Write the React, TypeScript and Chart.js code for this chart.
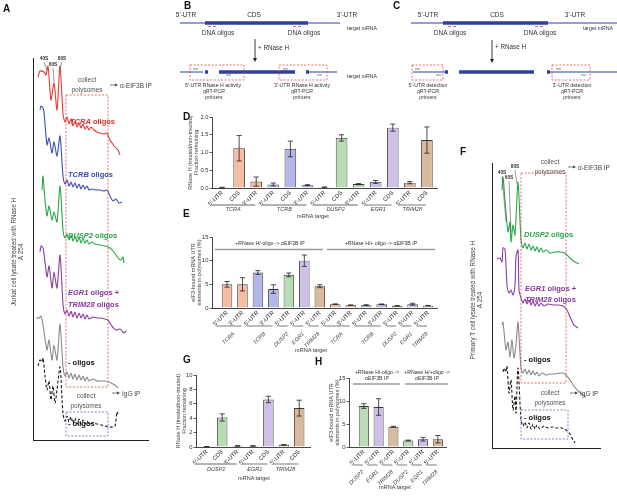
import React, { useEffect, useRef } from 'react';
import { Chart, registerables } from 'chart.js';

Chart.register(...registerables);

const W = 617;
const H = 496;
const FF = '"Liberation Sans", Arial, Helvetica, sans-serif';
Chart.defaults.font.family = FF;
Chart.defaults.color = '#333';

// ---------------- colours ----------------
const GROUP_COLOR: Record<string, string> = {
  TCRA: '#f6bda5',
  TCRB: '#b3b7e9',
  DUSP2: '#badcb5',
  EGR1: '#cec0e9',
  TRIM28: '#d9ba9c',
};

// ---------------- Panel D ----------------
const dLabels = ["5'-UTR", 'CDS', "3'-UTR", "5'-UTR", 'CDS', "3'-UTR", "5'-UTR", 'CDS', "3'-UTR", "5'-UTR", 'CDS', "5'-UTR", 'CDS'];
const dValues = [0.01, 1.12, 0.18, 0.1, 1.1, 0.08, 0.02, 1.41, 0.11, 0.17, 1.7, 0.15, 1.35];
const dErrors = [0.01, 0.36, 0.13, 0.04, 0.22, 0.015, 0.01, 0.09, 0.015, 0.04, 0.1, 0.03, 0.37];
const dGroups = ['TCRA', 'TCRB', 'DUSP2', 'EGR1', 'TRIM28'];
const dGroupSizes = [3, 3, 3, 2, 2];

// ---------------- Panel E ----------------
const eLabels = ["5'-UTR", "3'-UTR", "5'-UTR", "3'-UTR", "5'-UTR", "5'-UTR", "5'-UTR", "5'-UTR", "3'-UTR", "5'-UTR", "3'-UTR", "5'-UTR", "5'-UTR", "5'-UTR"];
const eValues = [5.0, 5.0, 7.5, 4.0, 7.0, 10.0, 4.6, 0.8, 0.6, 0.6, 0.8, 0.45, 0.8, 0.5];
const eErrors = [0.6, 1.4, 0.4, 0.9, 0.4, 1.2, 0.3, 0.08, 0.05, 0.1, 0.05, 0.05, 0.2, 0.05];
const eGroups = ['TCRA', 'TCRB', 'DUSP2', 'EGR1', 'TRIM28', 'TCRA', 'TCRB', 'DUSP2', 'EGR1', 'TRIM28'];
const eGroupSizes = [2, 2, 1, 1, 1, 2, 2, 1, 1, 1];

// ---------------- Panel G ----------------
const gLabels = ["5'-UTR", 'CDS', "3'-UTR", "5'-UTR", 'CDS', "5'-UTR", 'CDS'];
const gValues = [0.05, 4.1, 0.15, 0.15, 6.6, 0.3, 5.4];
const gErrors = [0.02, 0.5, 0.05, 0.05, 0.45, 0.05, 1.1];
const gGroups = ['DUSP2', 'EGR1', 'TRIM28'];
const gGroupSizes = [3, 2, 2];

// ---------------- Panel H ----------------
const hLabels = ["5'-UTR", "5'-UTR", "5'-UTR", "5'-UTR", "5'-UTR", "5'-UTR"];
const hValues = [8.9, 8.7, 4.4, 1.4, 1.7, 1.7];
const hErrors = [0.5, 1.8, 0.1, 0.1, 0.4, 0.8];
const hGroups = ['DUSP2', 'EGR1', 'TRIM28', 'DUSP2', 'EGR1', 'TRIM28'];
const hGroupSizes = [1, 1, 1, 1, 1, 1];

// ---------------- Panel A traces (gradient position, A254 a.u.) ----------------
const aRed: [number, number][] = [[5,355],[7,361],[11,360],[13,357],[15,366],[18,332],[21,349],[24,322],[27,366],[30,318],[32,310],[34,315],[36,308],[38,313],[40,306],[42,311],[44,305],[46,309],[48,304],[50,308],[52,303],[54,306],[56,302],[58,305],[61,302],[64,300],[67,299],[71,298],[74,299],[76,294],[79,289],[82,285],[85,282],[87,277]];
const aBlue: [number, number][] = [[7,322],[8,326],[10,324],[11,320],[14,287],[16,294],[19,279],[21,290],[24,276],[27,296],[30,256],[32,248],[34,252],[36,246],[38,250],[40,245],[42,249],[44,244],[46,248],[48,243],[50,247],[52,243],[54,246],[56,242],[59,243],[63,242],[67,242],[71,241],[74,242],[77,236],[80,231],[83,233],[86,229],[89,230]];
const aGreen: [number, number][] = [[9,242],[10,256],[12,232],[14,216],[16,226],[19,212],[21,220],[24,210],[27,246],[30,202],[32,194],[34,198],[36,192],[38,197],[40,191],[42,196],[44,190],[46,195],[48,189],[50,194],[52,189],[54,192],[56,188],[59,190],[62,188],[67,187],[72,186],[77,184],[81,180],[85,174],[88,172],[90,175],[91,169]];
const aPurple: [number, number][] = [[7,180],[8,186],[10,184],[12,170],[14,155],[16,166],[19,144],[21,160],[24,144],[27,177],[30,128],[32,118],[34,122],[36,116],[38,121],[40,115],[42,120],[44,114],[46,119],[48,114],[50,118],[52,113],[54,117],[56,113],[60,115],[64,114],[68,114],[72,113],[75,112],[79,106],[83,102],[87,103],[91,99],[93,101]];
const aGray: [number, number][] = [[3,114],[6,114],[8,116],[10,107],[14,82],[16,92],[19,72],[21,87],[24,72],[27,108],[30,65],[32,56],[34,60],[36,54],[38,59],[40,53],[42,58],[44,52],[46,57],[48,52],[50,56],[52,51],[54,55],[56,51],[60,53],[64,51],[68,51],[72,51],[76,50],[80,48],[83,46],[85,44]];
const aBlack: [number, number][] = [[5,66],[7,72],[9,70],[10,74],[12,56],[14,42],[16,51],[18,32],[20,46],[22,29],[24,42],[27,65],[30,18],[32,11],[34,16],[36,10],[38,15],[40,9],[42,14],[44,8],[46,13],[48,8],[50,12],[52,8],[54,11],[56,8],[60,9],[64,8],[68,7],[72,6],[76,5],[80,5],[82,6],[84,20],[85,18]];

// ---------------- Panel F traces ----------------
const fGreen: [number, number][] = [[10,258],[11,271],[13,248],[16,216],[18,226],[19,206],[21,223],[23,213],[26,266],[29,208],[31,200],[33,205],[35,199],[37,204],[39,198],[41,202],[43,197],[45,201],[47,196],[49,200],[51,196],[54,198],[58,195],[63,196],[68,196],[73,195],[76,192],[79,189],[83,186],[87,184]];
const fPurple: [number, number][] = [[5,189],[8,190],[10,186],[11,200],[13,199],[15,163],[17,155],[19,158],[21,153],[23,163],[24,192],[26,198],[27,158],[29,150],[31,145],[33,149],[35,144],[37,148],[39,143],[41,147],[43,142],[45,146],[47,142],[49,145],[52,142],[56,144],[61,143],[66,143],[71,142],[75,138],[78,131],[82,123],[86,120]];
const fGray: [number, number][] = [[10,123],[11,126],[14,98],[16,106],[18,91],[20,108],[22,90],[24,103],[26,126],[29,80],[31,75],[33,79],[35,74],[37,78],[39,73],[41,77],[43,73],[45,76],[47,72],[50,75],[54,73],[58,74],[63,74],[68,75],[73,74],[78,68],[82,62],[86,57],[90,54],[94,51]];
const fBlack: [number, number][] = [[11,76],[12,80],[14,76],[15,82],[17,55],[19,68],[21,38],[23,52],[24,35],[26,80],[29,28],[31,22],[33,26],[35,20],[37,25],[39,19],[41,24],[43,19],[45,23],[48,19],[52,22],[56,20],[60,21],[65,20],[70,20],[74,18],[78,14],[81,8],[83,5]];

// ---------------- Schematic (B, C) segments: x1, x2, y, width, colour ----------------
const BLUE = '#2f3f9e';
const RED = '#e0403c';
const schemSegments: [number, number, number, number, string][] = [
  [180, 340, 23, 1, BLUE], [205, 308, 23, 3.5, BLUE],
  [180, 203, 72, 1, BLUE], [205, 208, 72, 3.5, BLUE], [219, 295, 72, 3.5, BLUE], [306, 309, 72, 3.5, BLUE], [309, 337, 72, 1, BLUE],
  [411, 617, 23, 1, BLUE], [443, 548, 23, 3.5, BLUE],
  [413, 445, 72, 1, BLUE], [445, 448, 72, 3.5, BLUE], [459, 534, 72, 3.5, BLUE], [547, 550, 72, 3.5, BLUE], [550, 617, 72, 1, BLUE],
  [208, 211, 26.5, 0.8, RED], [213, 216, 26.5, 0.8, RED], [293, 296, 26.5, 0.8, RED], [298, 301, 26.5, 0.8, RED],
  [448, 451, 26.5, 0.8, RED], [453, 456, 26.5, 0.8, RED], [535, 538, 26.5, 0.8, RED], [540, 543, 26.5, 0.8, RED],
  [193, 198, 69, 0.6, '#333'], [226, 231, 75, 0.6, '#333'], [283, 288, 69, 0.6, '#333'], [317, 322, 75, 0.6, '#333'],
  [415, 420, 69, 0.6, '#333'], [436, 441, 75, 0.6, '#333'], [556, 561, 69, 0.6, '#333'], [581, 586, 75, 0.6, '#333'],
];

// ---------------- drawing helpers ----------------
type TOpt = { size?: number; bold?: boolean; italic?: boolean; color?: string; align?: CanvasTextAlign; rot?: number };
function T(ctx: CanvasRenderingContext2D, s: string, x: number, y: number, o: TOpt = {}) {
  ctx.save();
  ctx.font = `${o.italic ? 'italic ' : ''}${o.bold ? 'bold ' : ''}${o.size ?? 6.5}px ${FF}`;
  ctx.fillStyle = o.color ?? '#333';
  ctx.textAlign = o.align ?? 'center';
  ctx.textBaseline = 'middle';
  ctx.translate(x, y);
  if (o.rot) ctx.rotate(o.rot);
  ctx.fillText(s, 0, 0);
  ctx.restore();
}
function Mixed(ctx: CanvasRenderingContext2D, parts: [string, boolean][], x: number, y: number, size: number, color: string) {
  ctx.save();
  ctx.fillStyle = color;
  ctx.textBaseline = 'middle';
  ctx.textAlign = 'left';
  let cx = x;
  for (const [s, it] of parts) {
    ctx.font = `${it ? 'italic ' : ''}bold ${size}px ${FF}`;
    ctx.fillText(s, cx, y);
    cx += ctx.measureText(s).width;
  }
  ctx.restore();
}
function DRect(ctx: CanvasRenderingContext2D, x1: number, y1: number, x2: number, y2: number, color: string) {
  ctx.save();
  ctx.strokeStyle = color;
  ctx.lineWidth = 0.8;
  ctx.setLineDash([2, 1.6]);
  ctx.strokeRect(x1, y1, x2 - x1, y2 - y1);
  ctx.restore();
}
function Line(ctx: CanvasRenderingContext2D, x1: number, y1: number, x2: number, y2: number, color = '#555', w = 0.6) {
  ctx.save();
  ctx.strokeStyle = color;
  ctx.lineWidth = w;
  ctx.beginPath();
  ctx.moveTo(x1, y1);
  ctx.lineTo(x2, y2);
  ctx.stroke();
  ctx.restore();
}
function ArrowR(ctx: CanvasRenderingContext2D, x1: number, x2: number, y: number, color = '#444') {
  Line(ctx, x1, y, x2 - 2, y, color, 0.7);
  ctx.save();
  ctx.fillStyle = color;
  ctx.beginPath();
  ctx.moveTo(x2, y);
  ctx.lineTo(x2 - 3, y - 1.5);
  ctx.lineTo(x2 - 3, y + 1.5);
  ctx.closePath();
  ctx.fill();
  ctx.restore();
}
function ArrowD(ctx: CanvasRenderingContext2D, x: number, y1: number, y2: number) {
  Line(ctx, x, y1, x, y2 - 3, '#222', 0.9);
  ctx.save();
  ctx.fillStyle = '#222';
  ctx.beginPath();
  ctx.moveTo(x, y2);
  ctx.lineTo(x - 2, y2 - 4);
  ctx.lineTo(x + 2, y2 - 4);
  ctx.closePath();
  ctx.fill();
  ctx.restore();
}

// ---------------- bar panels ----------------
type Header = { lines: string[]; cx: number; y: number; x1: number; x2: number; lineY: number };
type BarSpec = {
  id: string; labels: string[]; values: number[]; errors: number[]; groups: string[]; sizes: number[];
  l: number; t: number; r: number; b: number; xMin: number; xMax: number; yMax: number; step: number; dec: number;
  yw: number; xh: number; letter: [string, number, number]; yTitle: string[]; yTitleX: number;
  groupRotate: boolean; groupLineY: number; groupTextY: number; mTarget: [number, number]; headers?: Header[];
};

function barConfig(s: BarSpec): any {
  const colors: string[] = [];
  s.groups.forEach((g, i) => { for (let k = 0; k < s.sizes[i]; k++) colors.push(GROUP_COLOR[g]); });
  const plugin = {
    id: 'barExtras' + s.id,
    afterDatasetsDraw(chart: any) {
      const ctx = chart.ctx as CanvasRenderingContext2D;
      const ys = chart.scales.y;
      const meta = chart.getDatasetMeta(0);
      ctx.save();
      ctx.strokeStyle = '#222';
      ctx.lineWidth = 0.8;
      meta.data.forEach((el: any, i: number) => {
        const v = s.values[i];
        const e = s.errors[i];
        const yt = ys.getPixelForValue(v + e);
        const yb = ys.getPixelForValue(Math.max(0, v - e));
        const x = el.x;
        const cw = 2.6;
        ctx.beginPath();
        ctx.moveTo(x, yt); ctx.lineTo(x, yb);
        ctx.moveTo(x - cw, yt); ctx.lineTo(x + cw, yt);
        ctx.moveTo(x - cw, yb); ctx.lineTo(x + cw, yb);
        ctx.stroke();
      });
      ctx.restore();
    },
    afterDraw(chart: any) {
      const ctx = chart.ctx as CanvasRenderingContext2D;
      const xs = chart.scales.x;
      const ys = chart.scales.y;
      T(ctx, s.letter[0], s.letter[1], s.letter[2], { size: 10, bold: true, color: '#111', align: 'left' });
      const cy = (ys.top + ys.bottom) / 2;
      s.yTitle.forEach((ln, i) => T(ctx, ln, s.yTitleX + i * 6.5, cy, { size: 5.5, rot: -Math.PI / 2, color: '#444' }));
      let start = 0;
      s.groups.forEach((g, gi) => {
        const end = start + s.sizes[gi] - 1;
        const p1 = xs.getPixelForValue(start);
        const p2 = xs.getPixelForValue(end);
        const x1 = p1 - 11;
        const x2 = p2 - 1;
        Line(ctx, x1, s.groupLineY, x2, s.groupLineY, '#9a9a9a', 1.3);
        const mid = (x1 + x2) / 2;
        if (s.groupRotate) {
          T(ctx, g, mid + 5, s.groupTextY, { size: 5.5, italic: true, align: 'right', rot: -Math.PI / 4, color: '#444' });
        } else {
          T(ctx, g, mid, s.groupTextY, { size: 5.5, italic: true, color: '#444' });
        }
        start = end + 1;
      });
      T(ctx, 'mRNA target', s.mTarget[0], s.mTarget[1], { size: 5.5, color: '#333' });
      (s.headers ?? []).forEach((h) => {
        h.lines.forEach((ln, i) => T(ctx, ln, h.cx, h.y + i * 6, { size: 5.2, color: '#333' }));
        Line(ctx, h.x1, h.lineY, h.x2, h.lineY, '#9a9a9a', 1.3);
      });
    },
  };
  return {
    type: 'bar',
    data: {
      datasets: [{
        data: s.values.map((v, i) => ({ x: i, y: v })),
        backgroundColor: colors,
        borderColor: '#3a3a3a',
        borderWidth: 0.9,
        barPercentage: 0.68,
        categoryPercentage: 1,
      }],
    },
    options: {
      responsive: false,
      animation: false,
      events: [],
      layout: { padding: { left: s.l - s.yw, top: s.t, right: W - s.r, bottom: H - s.b - s.xh } },
      plugins: { legend: { display: false }, tooltip: { enabled: false }, title: { display: false } },
      scales: {
        x: {
          type: 'linear', min: s.xMin, max: s.xMax, offset: false,
          afterBuildTicks: (sc: any) => { sc.ticks = s.labels.map((_, i) => ({ value: i })); },
          afterFit: (sc: any) => { sc.height = s.xh; },
          ticks: {
            autoSkip: false, maxRotation: 45, minRotation: 45, padding: 1.5,
            font: { size: 5.8, family: FF }, color: '#222',
            callback: (v: any) => s.labels[Math.round(v)] ?? '',
          },
          grid: { display: false, drawTicks: false, tickLength: 0 },
          border: { display: true, color: '#333', width: 0.9 },
        },
        y: {
          min: 0, max: s.yMax,
          afterFit: (sc: any) => { sc.width = s.yw; },
          ticks: { stepSize: s.step, padding: 1, font: { size: 5.8, family: FF }, color: '#333', callback: (v: any) => Number(v).toFixed(s.dec) },
          grid: { display: true, drawOnChartArea: false, drawTicks: true, tickLength: 2.5, color: '#333', lineWidth: 0.8 },
          border: { display: true, color: '#333', width: 0.9 },
        },
      },
    },
    plugins: [plugin],
  };
}

const specD: BarSpec = {
  id: 'D', labels: dLabels, values: dValues, errors: dErrors, groups: dGroups, sizes: dGroupSizes,
  l: 212, t: 117, r: 437, b: 188, xMin: -0.59, xMax: 12.59, yMax: 2, step: 0.5, dec: 1, yw: 16, xh: 30,
  letter: ['D', 183, 117], yTitle: ['RNase H (treated/non-treated)', 'Fraction remaining'], yTitleX: 190,
  groupRotate: false, groupLineY: 205, groupTextY: 209.5, mTarget: [313, 216],
};
const specE: BarSpec = {
  id: 'E', labels: eLabels, values: eValues, errors: eErrors, groups: eGroups, sizes: eGroupSizes,
  l: 212, t: 237, r: 437, b: 308, xMin: -0.97, xMax: 13.58, yMax: 15, step: 5, dec: 0, yw: 14, xh: 30,
  letter: ['E', 183, 214], yTitle: ['eIF3-bound mRNA UTR', 'elements in polysomes (%)'], yTitleX: 193,
  groupRotate: true, groupLineY: 326, groupTextY: 333, mTarget: [311, 350],
  headers: [
    { lines: ['+RNase H/-oligo -> \u03b1EIF3B IP'], cx: 270, y: 244, x1: 215, x2: 323, lineY: 249.5 },
    { lines: ['+RNase H/+ oligo -> \u03b1EIF3B IP'], cx: 381, y: 244, x1: 327, x2: 435, lineY: 249.5 },
  ],
};
const specG: BarSpec = {
  id: 'G', labels: gLabels, values: gValues, errors: gErrors, groups: gGroups, sizes: gGroupSizes,
  l: 196, t: 375, r: 310, b: 447, xMin: -0.7, xMax: 6.7, yMax: 10, step: 2, dec: 0, yw: 12, xh: 30,
  letter: ['G', 183, 360], yTitle: ['RNase H (treated/non-treated)', 'Fraction remaining'], yTitleX: 178,
  groupRotate: false, groupLineY: 464, groupTextY: 469, mTarget: [254, 478],
};
const specH: BarSpec = {
  id: 'H', labels: hLabels, values: hValues, errors: hErrors, groups: hGroups, sizes: hGroupSizes,
  l: 349, t: 378, r: 446, b: 447, xMin: -1.0, xMax: 5.55, yMax: 15, step: 5, dec: 0, yw: 12, xh: 30,
  letter: ['H', 315, 362], yTitle: ['eIF3-bound mRNA UTR', 'elements in polysomes (%)'], yTitleX: 331,
  groupRotate: true, groupLineY: 465, groupTextY: 471, mTarget: [395, 487],
  headers: [
    { lines: ['+RNase H/-oligo ->', '\u03b1EIF3B IP'], cx: 377, y: 373, x1: 353, x2: 400, lineY: 384 },
    { lines: ['+RNase H/+oligo ->', '\u03b1EIF3B IP'], cx: 427, y: 373, x1: 405, x2: 448, lineY: 384 },
  ],
};

// ---------------- trace panels ----------------
type Trace = { pts: [number, number][]; color: string; dash?: number[] };
function traceConfig(traces: Trace[], area: { l: number; t: number; r: number; b: number }, xMax: number, yMin: number, yMax: number, draw: (ctx: CanvasRenderingContext2D) => void, id: string): any {
  return {
    type: 'scatter',
    data: {
      datasets: traces.map((tr) => ({
        data: tr.pts.map(([x, y]) => ({ x, y })),
        showLine: true,
        borderColor: tr.color,
        borderWidth: 1.1,
        borderDash: tr.dash ?? [],
        pointRadius: 0,
        tension: 0.25,
        fill: false,
      })),
    },
    options: {
      responsive: false,
      animation: false,
      events: [],
      layout: { padding: { left: area.l, top: area.t, right: W - area.r, bottom: H - area.b } },
      plugins: { legend: { display: false }, tooltip: { enabled: false } },
      scales: {
        x: {
          type: 'linear', min: 0, max: xMax,
          afterFit: (sc: any) => { sc.height = 0; },
          ticks: { display: false }, grid: { display: false },
          border: { display: true, color: '#222', width: 1 },
        },
        y: {
          type: 'linear', min: yMin, max: yMax,
          afterFit: (sc: any) => { sc.width = 0; },
          ticks: { display: false }, grid: { display: false },
          border: { display: true, color: '#222', width: 1 },
        },
      },
    },
    plugins: [{ id: 'traceExtras' + id, afterDraw(chart: any) { draw(chart.ctx); } }],
  };
}

const aConfig = () => traceConfig(
  [
    { pts: aRed, color: '#e63a30' },
    { pts: aBlue, color: '#3f51a8' },
    { pts: aGreen, color: '#2ba64a' },
    { pts: aPurple, color: '#8b3fa0' },
    { pts: aGray, color: '#8a8a8a' },
    { pts: aBlack, color: '#1a1a1a', dash: [3, 2] },
  ],
  { l: 33, t: 58, r: 148, b: 440 }, 115, -8, 374,
  (ctx) => {
    T(ctx, 'A', 3, 9, { size: 10, bold: true, color: '#111', align: 'left' });
    T(ctx, 'Jurkat cell lysate treated with RNase H', 14, 252, { size: 6.3, rot: -Math.PI / 2, color: '#444' });
    T(ctx, 'A 254', 21, 252, { size: 6.3, rot: -Math.PI / 2, color: '#444' });
    T(ctx, '40S', 44, 59, { size: 4.8, bold: true, color: '#333' });
    T(ctx, '60S', 53, 65, { size: 4.8, bold: true, color: '#333' });
    T(ctx, '80S', 62, 59, { size: 4.8, bold: true, color: '#333' });
    Line(ctx, 44, 62, 47, 70);
    Line(ctx, 53, 68, 54, 82);
    Line(ctx, 62, 62, 60, 68);
    T(ctx, 'collect', 87, 80, { size: 6.5, color: '#555' });
    T(ctx, 'polysomes', 87, 90, { size: 6.5, color: '#555' });
    ArrowR(ctx, 110, 118, 85);
    T(ctx, '\u03b1-EIF3B IP', 120, 86, { size: 6.5, color: '#444', align: 'left' });
    DRect(ctx, 66, 95, 108, 387, '#e8474a');
    Mixed(ctx, [['TCRA', true], [' oligos', false]], 70, 122, 7.5, '#e0302a');
    Mixed(ctx, [['TCRB', true], [' oligos', false]], 68, 175, 7.5, '#3a4aa5');
    Mixed(ctx, [['DUSP2', true], [' oligos', false]], 68, 236, 7.5, '#27a246');
    Mixed(ctx, [['EGR1', true], [' oligos +', false]], 68, 293, 7.5, '#86379c');
    Mixed(ctx, [['TRIM28', true], [' oligos', false]], 68, 305, 7.5, '#86379c');
    Mixed(ctx, [['- oligos', false]], 68, 363, 7.5, '#111');
    T(ctx, 'collect', 86, 396, { size: 6.5, color: '#555' });
    T(ctx, 'polysomes', 86, 406, { size: 6.5, color: '#555' });
    ArrowR(ctx, 112, 120, 393);
    T(ctx, 'IgG IP', 122, 394, { size: 6.5, color: '#444', align: 'left' });
    DRect(ctx, 66, 412, 108, 436, '#5a6ab8');
    Mixed(ctx, [['- oligos', false]], 68, 424, 7.5, '#111');
  },
  'A',
);

const fConfig = () => traceConfig(
  [
    { pts: fGreen, color: '#2ba64a' },
    { pts: fPurple, color: '#8b3fa0' },
    { pts: fGray, color: '#8a8a8a' },
    { pts: fBlack, color: '#1a1a1a', dash: [3, 2] },
  ],
  { l: 492, t: 163, r: 600, b: 448 }, 108, 0, 285,
  (ctx) => {
    T(ctx, 'F', 460, 152, { size: 10, bold: true, color: '#111', align: 'left' });
    T(ctx, 'Primary T cell lysate treated with RNase H', 473, 300, { size: 6.3, rot: -Math.PI / 2, color: '#444' });
    T(ctx, 'A 254', 480, 300, { size: 6.3, rot: -Math.PI / 2, color: '#444' });
    T(ctx, '40S', 502, 173, { size: 4.8, bold: true, color: '#333' });
    T(ctx, '60S', 509, 178, { size: 4.8, bold: true, color: '#333' });
    T(ctx, '80S', 515, 167, { size: 4.8, bold: true, color: '#333' });
    Line(ctx, 502, 176, 506, 222);
    Line(ctx, 509, 181, 511, 232);
    Line(ctx, 515, 170, 517, 184);
    T(ctx, 'collect', 550, 162, { size: 6.5, color: '#555' });
    T(ctx, 'polysomes', 550, 172, { size: 6.5, color: '#555' });
    ArrowR(ctx, 568, 576, 167);
    T(ctx, '\u03b1-EIF3B IP', 578, 168, { size: 6.5, color: '#444', align: 'left' });
    DRect(ctx, 521, 173, 566, 383, '#e8474a');
    Mixed(ctx, [['DUSP2', true], [' oligos', false]], 524, 235, 7.5, '#27a246');
    Mixed(ctx, [['EGR1', true], [' oligos +', false]], 525, 289, 7.5, '#86379c');
    Mixed(ctx, [['TRIM28', true], [' oligos', false]], 525, 300, 7.5, '#86379c');
    Mixed(ctx, [['- oligos', false]], 524, 360, 7.5, '#111');
    T(ctx, 'collect', 550, 393, { size: 6.5, color: '#555' });
    T(ctx, 'polysomes', 550, 403, { size: 6.5, color: '#555' });
    ArrowR(ctx, 570, 578, 393);
    T(ctx, 'IgG IP', 580, 394, { size: 6.5, color: '#444', align: 'left' });
    DRect(ctx, 521, 410, 568, 439, '#5a6ab8');
    Mixed(ctx, [['- oligos', false]], 524, 418, 7.5, '#111');
  },
  'F',
);

// ---------------- schematic B & C ----------------
const bcConfig = (): any => ({
  type: 'scatter',
  data: {
    datasets: schemSegments.map(([x1, x2, y, w, c]) => ({
      data: [{ x: x1, y }, { x: x2, y }],
      showLine: true,
      borderColor: c,
      borderWidth: w,
      borderCapStyle: 'butt',
      pointRadius: 0,
    })),
  },
  options: {
    responsive: false,
    animation: false,
    events: [],
    layout: { padding: { left: 0, top: 0, right: 0, bottom: H - 105 } },
    plugins: { legend: { display: false }, tooltip: { enabled: false } },
    scales: {
      x: { type: 'linear', min: 0, max: W, display: false },
      y: { type: 'linear', min: 0, max: 105, reverse: true, display: false },
    },
  },
  plugins: [{
    id: 'schemText',
    afterDraw(chart: any) {
      const ctx = chart.ctx as CanvasRenderingContext2D;
      const c = '#333';
      // B
      T(ctx, 'B', 184, 6, { size: 10, bold: true, color: '#111', align: 'left' });
      T(ctx, "5'-UTR", 186, 15, { size: 6.5, color: c });
      T(ctx, 'CDS', 254, 15, { size: 6.5, color: c });
      T(ctx, "3'-UTR", 347, 15, { size: 6.5, color: c });
      T(ctx, 'DNA oligos', 218, 33, { size: 6.5, color: c });
      T(ctx, 'DNA oligos', 304, 33, { size: 6.5, color: c });
      T(ctx, 'target mRNA', 362, 29, { size: 5.2, color: c });
      ArrowD(ctx, 255, 39, 62);
      T(ctx, '+ RNase H', 258, 48, { size: 6.3, color: c, align: 'left' });
      DRect(ctx, 190, 65, 244, 80, '#e8474a');
      DRect(ctx, 279, 65, 327, 80, '#e8474a');
      T(ctx, 'target mRNA', 362, 77, { size: 5.2, color: c });
      T(ctx, "5'-UTR RNase H activity", 213, 86, { size: 5.2, color: c });
      T(ctx, 'qRT-PCR', 214, 92, { size: 5.2, color: c });
      T(ctx, 'primers', 214, 98, { size: 5.2, color: c });
      T(ctx, "3'-UTR RNase H activity", 302, 86, { size: 5.2, color: c });
      T(ctx, 'qRT-PCR', 302, 92, { size: 5.2, color: c });
      T(ctx, 'primers', 302, 98, { size: 5.2, color: c });
      // C
      T(ctx, 'C', 393, 6, { size: 10, bold: true, color: '#111', align: 'left' });
      T(ctx, "5'-UTR", 428, 15, { size: 6.5, color: c });
      T(ctx, 'CDS', 497, 15, { size: 6.5, color: c });
      T(ctx, "3'-UTR", 575, 15, { size: 6.5, color: c });
      T(ctx, 'DNA oligos', 450, 33, { size: 6.5, color: c });
      T(ctx, 'DNA oligos', 540, 33, { size: 6.5, color: c });
      T(ctx, 'target mRNA', 598, 29, { size: 5.2, color: c });
      ArrowD(ctx, 492, 40, 63);
      T(ctx, '+ RNase H', 495, 47, { size: 6.3, color: c, align: 'left' });
      DRect(ctx, 412, 65, 443, 80, '#e8474a');
      DRect(ctx, 552, 65, 590, 80, '#e8474a');
      T(ctx, "5'-UTR detection", 428, 86, { size: 5.2, color: c });
      T(ctx, 'qRT-PCR', 428, 92, { size: 5.2, color: c });
      T(ctx, 'primers', 428, 98, { size: 5.2, color: c });
      T(ctx, "3'-UTR detection", 572, 86, { size: 5.2, color: c });
      T(ctx, 'qRT-PCR', 572, 92, { size: 5.2, color: c });
      T(ctx, 'primers', 572, 98, { size: 5.2, color: c });
    },
  }],
});

const N_CHARTS = 7;

export default function App() {
  const refs = useRef<(HTMLCanvasElement | null)[]>([]);
  useEffect(() => {
    const configs = [bcConfig(), aConfig(), fConfig(), barConfig(specD), barConfig(specE), barConfig(specG), barConfig(specH)];
    const charts = configs.map((cfg, i) => new Chart(refs.current[i] as HTMLCanvasElement, cfg));
    return () => charts.forEach((ch) => ch.destroy());
  }, []);
  return (
    <div style={{ position: 'fixed', left: 0, top: 0, width: W, height: H, background: '#fff', overflow: 'hidden' }}>
      {Array.from({ length: N_CHARTS }).map((_, i) => (
        <canvas
          key={i}
          ref={(el) => { refs.current[i] = el; }}
          width={W}
          height={H}
          style={{ position: 'absolute', left: 0, top: 0, width: W, height: H }}
        />
      ))}
    </div>
  );
}
